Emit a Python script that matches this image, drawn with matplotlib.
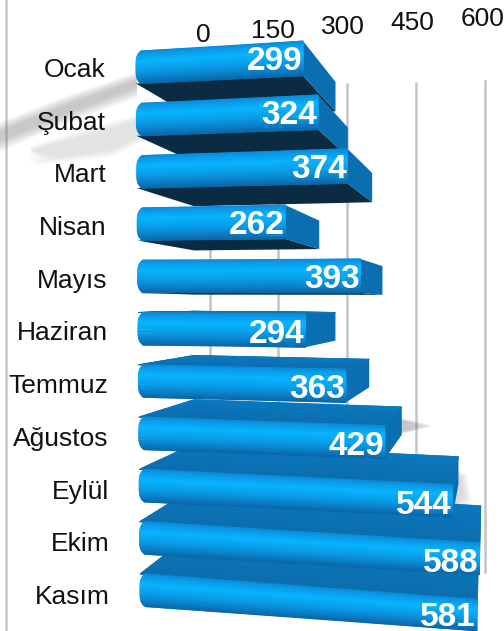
import numpy as np
import matplotlib
matplotlib.use("Agg")
import matplotlib.pyplot as plt
from matplotlib.colors import LinearSegmentedColormap

months = ["Ocak", "Şubat", "Mart", "Nisan", "Mayıs", "Haziran", "Temmuz",
          "Ağustos", "Eylül", "Ekim", "Kasım"]
values = [299, 324, 374, 262, 393, 294, 363, 429, 544, 588, 581]
ticks = [0, 150, 300, 450, 600]

W, H = 504, 631
plt.rcParams["font.family"] = ["Liberation Sans", "DejaVu Sans"]
fig = plt.figure(figsize=(W / 100, H / 100), dpi=100)
ax = fig.add_axes([0, 0, 1, 1])
ax.set_xlim(0, W)
ax.set_ylim(H, 0)
ax.axis("off")

VP_Y = 305.0
DEPTH = 0.155
WALL = 0.195


def vp_x(r):
    return 512 - 2.6 * r


def front(v, r, u):
    """Pixel of value v on row r; u=0 top edge, u=1 bottom edge of the front face."""
    k = 0.559 + 0.0021 * r
    x0 = 136 + 0.4 * r
    run = k * v
    top = 51 + 52.3 * r + 0.0135 * (r - 4.4) * run
    bot = 51 + 52.3 * r + 32.5 + 0.0118 * (r - 3.9) * run
    return np.array([x0 + run, top + (bot - top) * u])


def back(v, r, u):
    p = front(v, r, u)
    return p + DEPTH * (np.array([vp_x(r), VP_Y]) - p)


def tick_x(v):
    p = front(v, 5, 0)
    return p[0] + WALL * (505 - p[0])


# frame and gridlines
ax.plot([6, 6], [0, H], color="#c6c6c6", lw=1.8, zorder=1)
for t in ticks:
    ax.plot([tick_x(t)] * 2, [88 - 0.012 * t, 572], color="#c4c4c4", lw=1.8, zorder=1)

# soft shadows, built from nested translucent wedges
for i in range(14):
    f = i / 13
    ax.fill([137, 60, 0, 0, 60, 137],
            [72 + 8 * f, 98 + 10 * f, 122 + 10 * f, 152 - 12 * f, 126 - 10 * f, 98 - 12 * f],
            color="#808080", alpha=0.035, lw=0, zorder=1.5)
    ax.fill([160, 100, 30, 30 + 30 * f, 110, 165],
            [108 + 6 * f, 124 + 8 * f, 146 + 5 * f, 166 - 8 * f, 158 - 8 * f, 132 - 8 * f],
            color="#808080", alpha=0.012, lw=0, zorder=1.5)
    ax.fill([395, 412, 434 - 16 * f, 412, 395],
            [418, 420 + 3 * f, 426, 432 - 3 * f, 434], color="#808080", alpha=0.035, lw=0, zorder=1.5)
    ax.fill([454, 468 - 8 * f, 472 - 10 * f, 454],
            [470, 474 + 4 * f, 502 - 5 * f, 508], color="#808080", alpha=0.02, lw=0, zorder=1.5)

front_cmap = LinearSegmentedColormap.from_list(
    "front", [(0, "#0c8ad6"), (0.12, "#0a9eec"), (0.32, "#08b4ff"), (0.6, "#0a9ee8"),
              (0.85, "#0b7ec6"), (1, "#0a68a8")])
top_cmap = LinearSegmentedColormap.from_list("top", ["#0b6eae", "#0b78be"])
U = np.linspace(0, 1, 25)


def draw_bar(r, v, z):
    # top face and underside
    if r >= 5:
        fl, fr, bl, br = front(0, r, 0), front(v, r, 0), back(0, r, 0), back(v, r, 0)
        X = np.array([[fl[0] + (bl[0] - fl[0]) * a, fr[0] + (br[0] - fr[0]) * a] for a in U])
        Y = np.array([[fl[1] + (bl[1] - fl[1]) * a, fr[1] + (br[1] - fr[1]) * a] for a in U])
        C = np.column_stack([U, U])
        ax.pcolormesh(X, Y, C, cmap=top_cmap, shading="gouraud", zorder=z)
    if r <= 4:
        ax.fill(*zip(front(0, r, 1), front(v, r, 1), back(v, r, 1), back(0, r, 1)),
                color="#0b2b42", lw=0, zorder=z)
    # right side
    ax.fill(*zip(front(v, r, 0), back(v, r, 0), back(v, r, 1), front(v, r, 1)),
            color="#0a6eb0", lw=0, zorder=z + 0.1)
    # curved front face with a rounded left end
    left = np.array([front(0, r, a) + [5 * (2 * a - 1) ** 4, 0] for a in U])
    right = np.array([front(v, r, a) for a in U])
    X = np.column_stack([left[:, 0], right[:, 0]])
    Y = np.column_stack([left[:, 1], right[:, 1]])
    C = np.column_stack([U, U])
    ax.pcolormesh(X, Y, C, cmap=front_cmap, shading="gouraud", zorder=z + 0.2)
    # value label
    mid = (front(v, r, 0) + front(v, r, 1)) / 2
    ax.text(mid[0] - 1, min(mid[1] + 3 + 0.15 * r, 617.5), str(v), color="white", fontsize=24,
            fontweight="bold", ha="right", va="center", zorder=30)


order = [0, 1, 2, 3, 4, 10, 9, 8, 7, 6, 5]
for z, r in enumerate(order):
    draw_bar(r, values[r], 3 + z)

# category labels
for r, m in enumerate(months):
    ax.text(105.5 + 0.45 * r, 70 + 52.7 * r, m, color="#111111", fontsize=19,
            ha="right", va="center", zorder=31)

# value axis labels
for t in ticks:
    ax.text(203.5 + 0.465 * t, 35 - 0.026 * t, str(t), color="#111111", fontsize=19,
            ha="center", va="center", zorder=31)

fig.savefig("out.png", dpi=100, facecolor="white")
